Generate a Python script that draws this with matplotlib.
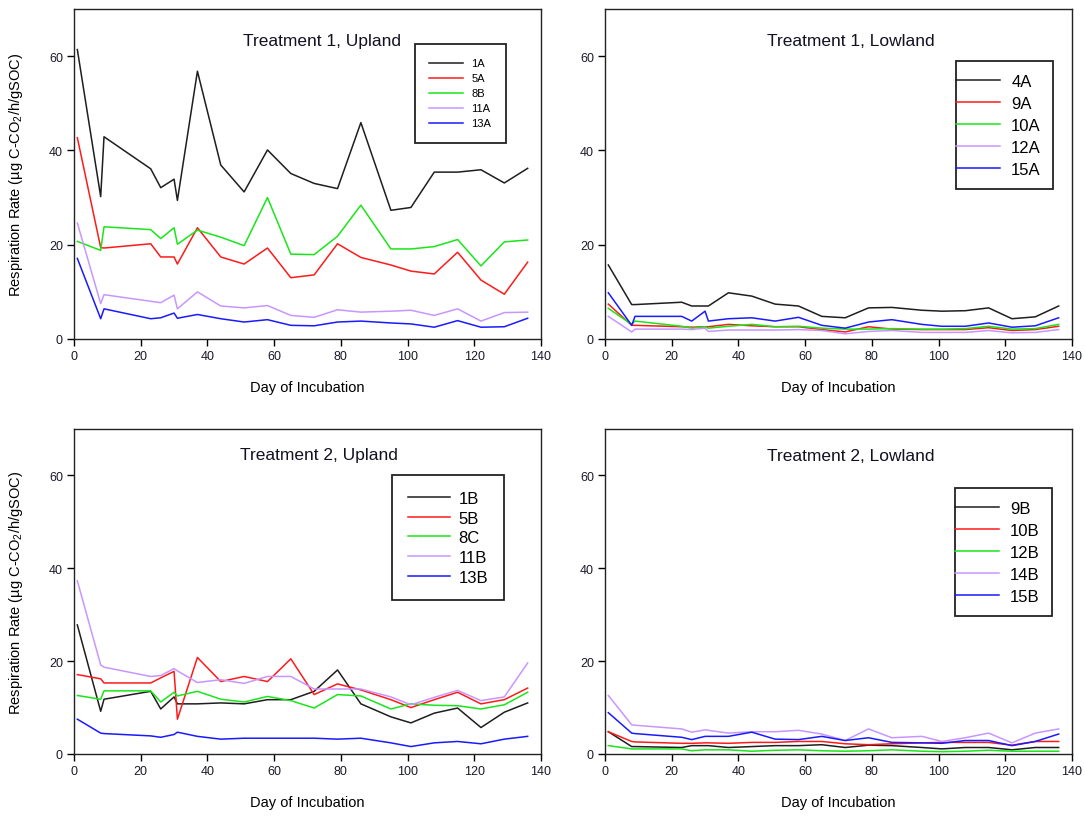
import matplotlib
matplotlib.use("Agg")
import matplotlib.pyplot as plt
from matplotlib.legend_handler import HandlerLine2D

plt.rcParams['font.family'] = ['Liberation Sans', 'DejaVu Sans']
plt.rcParams['mathtext.fontset'] = 'custom'
plt.rcParams['mathtext.rm'] = 'Liberation Sans'
plt.rcParams['mathtext.it'] = 'Liberation Sans:italic'

# ---------------- data ----------------
days = [1, 8, 9, 23, 26, 30, 31, 37, 44, 51, 58, 65, 72, 79, 86, 95, 101, 108, 115, 122, 129, 136]

t1_up_labels = ["1A", "5A", "8B", "11A", "13A"]
s_1A = [61.4, 30.2, 42.9, 36.1, 32.1, 33.9, 29.4, 56.8, 36.9, 31.2, 40.1, 35.1, 33.0, 31.9, 45.9, 27.3, 27.9, 35.4, 35.4, 35.9, 33.1, 36.2]
s_5A = [42.7, 19.4, 19.3, 20.2, 17.4, 17.4, 15.9, 23.6, 17.4, 15.9, 19.3, 13.0, 13.6, 20.2, 17.3, 15.7, 14.4, 13.8, 18.4, 12.5, 9.5, 16.3]
s_8B = [20.7, 18.8, 23.8, 23.2, 21.3, 23.6, 20.1, 23.1, 21.6, 19.8, 30.0, 18.0, 17.9, 21.8, 28.4, 19.1, 19.1, 19.6, 21.1, 15.5, 20.6, 21.0]
s_11A = [24.6, 7.5, 9.4, 8.0, 7.7, 9.3, 6.4, 10.0, 7.0, 6.6, 7.1, 5.0, 4.6, 6.2, 5.7, 5.9, 6.1, 5.0, 6.4, 3.8, 5.6, 5.7]
s_13A = [17.1, 4.3, 6.4, 4.3, 4.5, 5.5, 4.4, 5.2, 4.3, 3.6, 4.1, 2.9, 2.8, 3.6, 3.8, 3.4, 3.2, 2.5, 3.9, 2.5, 2.6, 4.4]

t1_low_labels = ["4A", "9A", "10A", "12A", "15A"]
s_4A = [15.7, 7.3, 7.3, 7.8, 7.0, 7.0, 7.0, 9.8, 9.1, 7.4, 7.0, 4.8, 4.5, 6.6, 6.7, 6.1, 5.9, 6.0, 6.6, 4.3, 4.7, 7.0]
s_9A = [7.4, 2.9, 2.9, 2.6, 2.5, 2.6, 2.6, 3.1, 2.8, 2.6, 2.6, 2.0, 1.5, 2.6, 2.1, 2.0, 2.0, 2.0, 2.4, 1.8, 2.0, 2.7]
s_10A = [6.5, 3.1, 3.8, 2.7, 2.3, 2.6, 2.3, 2.7, 3.1, 2.6, 2.7, 2.3, 2.1, 2.1, 2.2, 2.1, 2.1, 2.2, 2.7, 2.1, 2.2, 3.1]
s_12A = [4.8, 1.5, 2.1, 2.1, 2.0, 2.3, 1.6, 1.9, 1.9, 1.9, 2.0, 1.8, 1.1, 1.6, 1.8, 1.4, 1.4, 1.4, 1.8, 1.3, 1.4, 2.0]
s_15A = [9.8, 2.9, 4.8, 4.8, 3.8, 5.9, 3.8, 4.3, 4.5, 3.8, 4.6, 2.9, 2.3, 3.6, 4.1, 3.1, 2.7, 2.7, 3.4, 2.5, 2.8, 4.5]

t2_up_labels = ["1B", "5B", "8C", "11B", "13B"]
s_1B = [27.8, 9.2, 11.8, 13.5, 9.7, 12.3, 10.8, 10.8, 11.0, 10.8, 11.7, 11.7, 13.5, 18.1, 10.8, 8.0, 6.7, 8.8, 9.9, 5.7, 9.0, 11.0]
s_5B = [17.1, 16.2, 15.3, 15.3, 16.4, 17.8, 7.5, 20.8, 15.6, 16.7, 15.6, 20.5, 12.8, 15.1, 13.8, 11.7, 10.0, 11.7, 13.3, 10.8, 11.7, 14.2]
s_8C = [12.6, 11.8, 13.6, 13.6, 11.2, 13.3, 12.5, 13.5, 11.8, 11.2, 12.4, 11.5, 9.9, 12.8, 12.5, 9.7, 10.8, 10.5, 10.4, 9.7, 10.6, 13.3]
s_11B = [37.3, 19.2, 18.7, 16.7, 16.9, 18.4, 17.9, 15.4, 16.0, 15.2, 16.7, 16.7, 14.0, 14.0, 14.0, 12.3, 10.6, 12.2, 13.7, 11.5, 12.3, 19.6]
s_13B = [7.5, 4.5, 4.4, 3.9, 3.6, 4.2, 4.7, 3.8, 3.2, 3.4, 3.4, 3.4, 3.4, 3.2, 3.4, 2.4, 1.6, 2.4, 2.7, 2.2, 3.2, 3.8]

t2_low_labels = ["9B", "10B", "12B", "14B", "15B"]
s_9B = [4.8, 1.6, 1.6, 1.4, 1.8, 1.8, 1.8, 1.4, 1.6, 1.8, 1.8, 2.0, 1.4, 1.9, 1.8, 1.4, 1.1, 1.4, 1.4, 0.9, 1.4, 1.4]
s_10B = [4.8, 2.7, 2.6, 2.3, 2.3, 2.4, 2.4, 2.3, 2.5, 2.5, 2.7, 2.7, 2.2, 2.0, 2.2, 2.4, 2.5, 2.5, 2.5, 1.9, 2.7, 2.7]
s_12B = [1.8, 1.1, 1.1, 1.1, 0.7, 0.9, 0.9, 0.9, 0.6, 0.8, 0.9, 0.7, 0.6, 0.7, 0.9, 0.6, 0.5, 0.6, 0.8, 0.6, 0.6, 0.6]
s_14B = [12.6, 6.3, 6.2, 5.4, 4.7, 5.2, 5.1, 4.5, 4.8, 4.8, 5.1, 4.3, 2.9, 5.4, 3.5, 3.8, 2.7, 3.5, 4.5, 2.4, 4.5, 5.4]
s_15B = [8.9, 4.5, 4.4, 3.6, 3.1, 3.8, 3.8, 3.8, 4.7, 3.2, 3.1, 3.8, 2.9, 3.5, 2.5, 2.4, 2.3, 2.9, 2.9, 1.8, 2.7, 4.3]

titles = ["Treatment 1, Upland", "Treatment 1, Lowland",
          "Treatment 2, Upland", "Treatment 2, Lowland"]
x_ticks = [0, 20, 40, 60, 80, 100, 120, 140]
y_ticks = [0, 20, 40, 60]

colors = ["#1e1e1e", "#ff1a1a", "#19e619", "#c896ff", "#1a1aff"]


class LeftExtHandler(HandlerLine2D):
    def __init__(self, ext=0.0, **kw):
        super().__init__(**kw)
        self.ext = ext

    def create_artists(self, legend, orig_handle, xdescent, ydescent,
                       width, height, fontsize, trans):
        arts = super().create_artists(legend, orig_handle, xdescent, ydescent,
                                      width, height, fontsize, trans)
        line = arts[0]
        xd = list(line.get_xdata())
        xd[0] = xd[0] - self.ext
        line.set_xdata(xd)
        return arts


# ---------------- figure ----------------
W, H = 1085, 820
fig = plt.figure(figsize=(W / 100, H / 100), dpi=100)

def ax_rect(x0, x1, ytop, ybot):
    return [x0 / W, 1 - ybot / H, (x1 - x0) / W, (ybot - ytop) / H]

rects = [ax_rect(74, 541, 10, 340), ax_rect(605, 1072, 10, 340),
         ax_rect(74, 541, 430, 755), ax_rect(605, 1072, 430, 755)]

panels = [
    (t1_up_labels, [s_1A, s_5A, s_8B, s_11A, s_13A]),
    (t1_low_labels, [s_4A, s_9A, s_10A, s_12A, s_15A]),
    (t2_up_labels, [s_1B, s_5B, s_8C, s_11B, s_13B]),
    (t2_low_labels, [s_9B, s_10B, s_12B, s_14B, s_15B]),
]

title_pos = [(0.531, 0.906), (0.527, 0.906), (0.525, 0.92), (0.527, 0.917)]

# legend settings: (anchor x, anchor y, fontsize, borderpad, handlelength, handletextpad, labelspacing, extend)
leg_cfg = [
    (0.730, 0.894, 8.0, 1.3, 3.0, 0.8, 0.45, 0.0),
    (0.752, 0.842, 12.0, 0.75, 1.9, 0.65, 0.42, 1.0),
    (0.681, 0.858, 12.0, 0.95, 2.5, 0.55, 0.28, 0.0),
    (0.749, 0.818, 12.0, 0.75, 1.9, 0.65, 0.42, 1.0),
]

for i, (rect, (labels, series)) in enumerate(zip(rects, panels)):
    ax = fig.add_axes(rect)
    handles = []
    for lab, vals, c in zip(labels, series, colors):
        h, = ax.plot(days, vals, color=c, lw=1.1, label=lab)
        handles.append(h)
    ax.set_xlim(0, 140)
    ax.set_ylim(0, 70)
    ax.set_xticks(x_ticks)
    ax.set_yticks(y_ticks)
    ax.tick_params(direction='out', length=5, width=1.0, labelsize=9,
                   labelcolor='#1a1a2a', pad=3)
    for sp in ax.spines.values():
        sp.set_linewidth(1.0)
        sp.set_color('#222222')
    ax.set_xlabel("Day of Incubation", fontsize=10.5)
    ax.xaxis.set_label_coords(0.5, -0.125)
    if i % 2 == 0:
        ax.set_ylabel("Respiration Rate (µg C-CO$_2$/h/gSOC)", fontsize=10.5)
        ax.yaxis.set_label_coords(-0.105, 0.5)
    tx, ty = title_pos[i]
    ax.text(tx, ty, titles[i], transform=ax.transAxes, ha='center',
            va='center', fontsize=12.5, color='#111122')

    lx, ly, fs, bp, hl, htp, ls, ext = leg_cfg[i]
    hmap = {h: LeftExtHandler(ext=ext * bp * fs) for h in handles}
    leg = ax.legend(handles=handles, loc='upper left', bbox_to_anchor=(lx, ly),
                    bbox_transform=ax.transAxes, borderaxespad=0,
                    fontsize=fs, borderpad=bp, handlelength=hl,
                    handletextpad=htp, labelspacing=ls, fancybox=False,
                    framealpha=1, edgecolor='#222222', handler_map=hmap)
    leg.get_frame().set_linewidth(1.3)

fig.savefig("out.png", dpi=100)
